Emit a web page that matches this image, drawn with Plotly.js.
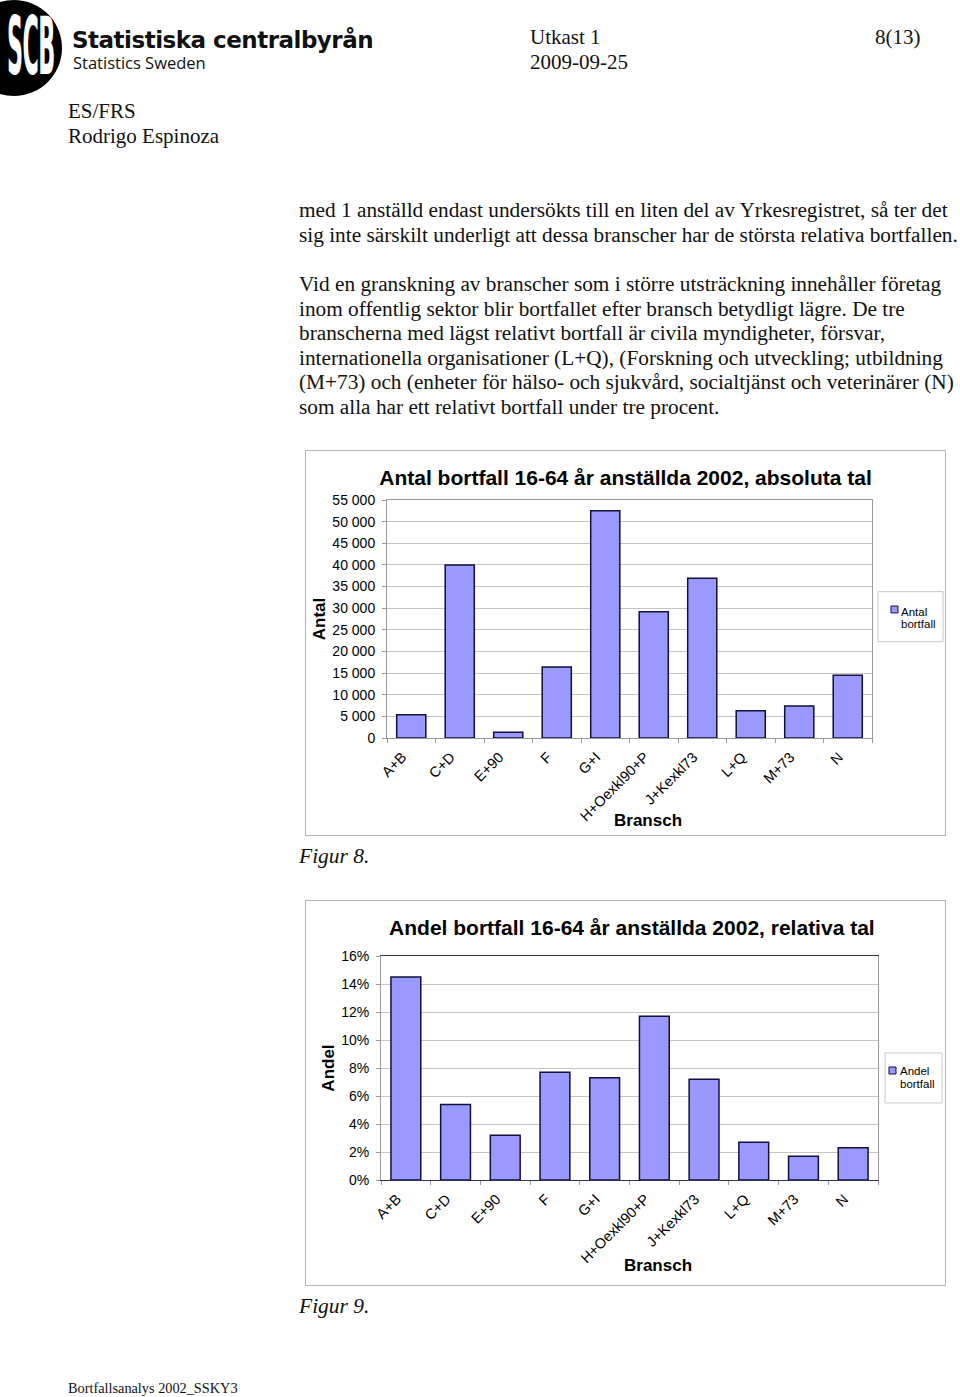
<!DOCTYPE html>
<html>
<head>
<meta charset="utf-8">
<script src="https://cdn.plot.ly/plotly-3.0.1.min.js"></script>
<style>
  body { margin: 0; background: #fff; width: 960px; height: 1397px; position: relative; overflow: hidden;
         font-family: 'Liberation Serif', 'Times New Roman', serif; color: #111; }
  .abs { position: absolute; white-space: nowrap; }
  .serif20 { font-size: 21px; }
  .body-text { font-size: 21.3px; line-height: 24.5px; }
  .chart-box { position: absolute; left: 305px; width: 639px; height: 384px; border: 1px solid #b4b4b4; }
  .logo-disc { position: absolute; left: -34px; top: 0px; width: 96px; height: 96px; border-radius: 50%; background: #000; }
  .logo-scb { position: absolute; left: 7px; top: 0px; color: #fff; font-family: 'DejaVu Sans Condensed', 'DejaVu Sans', sans-serif;
              font-weight: bold; font-size: 40px; letter-spacing: -1px; transform: scale(0.62, 2.0); transform-origin: top left; }
</style>
</head>
<body>

<!-- header -->
<div class="logo-disc"></div>
<div class="abs logo-scb">SCB</div>
<div class="abs" style="left:72px; top:27px; font-family:'DejaVu Sans', sans-serif; font-weight:bold; font-size:23px; letter-spacing:-0.5px;">Statistiska centralbyrån</div>
<div class="abs" style="left:73px; top:51px; font-family:'Open Sans', 'DejaVu Sans', sans-serif; font-size:16.5px;">Statistics Sweden</div>

<div class="abs serif20" style="left:530px; top:25px;">Utkast 1</div>
<div class="abs serif20" style="left:530px; top:50px;">2009-09-25</div>
<div class="abs serif20" style="left:875px; top:25px;">8(13)</div>
<div class="abs serif20" style="left:68px; top:99px;">ES/FRS</div>
<div class="abs serif20" style="left:68px; top:124px;">Rodrigo Espinoza</div>

<!-- body text -->
<div class="abs body-text" style="left:299px; top:198px;">
med 1 anställd endast undersökts till en liten del av Yrkesregistret, så ter det<br>
sig inte särskilt underligt att dessa branscher har de största relativa bortfallen.
</div>
<div class="abs body-text" style="left:299px; top:272px;">
Vid en granskning av branscher som i större utsträckning innehåller företag<br>
inom offentlig sektor blir bortfallet efter bransch betydligt lägre. De tre<br>
branscherna med lägst relativt bortfall är civila myndigheter, försvar,<br>
internationella organisationer (L+Q), (Forskning och utveckling; utbildning<br>
(M+73) och (enheter för hälso- och sjukvård, socialtjänst och veterinärer (N)<br>
som alla har ett relativt bortfall under tre procent.
</div>

<div class="chart-box" style="top:450px;"><div id="chart1" style="width:639px;height:384px;"></div></div>
<div class="abs serif20" style="left:299px; top:844px; font-style:italic; font-size:21.5px;">Figur 8.</div>

<div class="chart-box" style="top:900px;"><div id="chart2" style="width:639px;height:384px;"></div></div>
<div class="abs serif20" style="left:299px; top:1294px; font-style:italic; font-size:21.5px;">Figur 9.</div>

<div class="abs" style="left:68px; top:1380px; font-size:14.3px;">Bortfallsanalys 2002_SSKY3</div>

<script>
// Data
const branscher = ['A+B', 'C+D', 'E+90', 'F', 'G+I', 'H+Oexkl90+P', 'J+Kexkl73', 'L+Q', 'M+73', 'N'];
const antalBortfall = [5400, 40000, 1300, 16400, 52500, 29200, 36900, 6300, 7400, 14500];
const andelBortfall = [0.145, 0.054, 0.032, 0.077, 0.073, 0.117, 0.072, 0.027, 0.017, 0.023];

const barColor = '#9999ff';
const barLine = '#10103a';
const gridCol = '#c4c4c4';
const frameCol = '#9a9a9a';

const baseFont = { family: 'Liberation Sans, Arial, sans-serif', color: '#000', size: 14 };

function xAxisCfg(lineCol) {
    return {
        type: 'category',
        tickangle: -45,
        tickfont: { size: 14.5 },
        ticks: 'outside', ticklen: 4, tickcolor: frameCol,
        tickson: 'boundaries',
        ticklabelstandoff: 4,
        ticklabelshift: -9,
        showline: true, linecolor: lineCol, mirror: true,
        showgrid: false, automargin: false, fixedrange: true
    };
}

function yAxisCfg(extra) {
    return Object.assign({
        showgrid: true, gridcolor: gridCol, gridwidth: 1,
        zeroline: false,
        showline: true, linecolor: frameCol, mirror: true,
        ticks: 'outside', ticklen: 4, tickcolor: frameCol,
        ticklabelstandoff: 4,
        tickfont: { size: 14 },
        automargin: false, fixedrange: true
    }, extra);
}

// legend drawn as a box + key square + two text lines (paper coords)
function legendParts(box, key, textX, lines, lineY) {
    const shapes = [
        { type: 'rect', xref: 'paper', yref: 'paper', x0: box[0], x1: box[1], y0: box[2], y1: box[3],
          line: { color: '#c8c8c8', width: 1 }, fillcolor: '#fff' },
        { type: 'rect', xref: 'paper', yref: 'paper', x0: key[0], x1: key[1], y0: key[2], y1: key[3],
          line: { color: barLine, width: 1 }, fillcolor: barColor }
    ];
    const annotations = lines.map((t, i) => ({
        text: t, xref: 'paper', yref: 'paper', x: textX, y: lineY[i], showarrow: false,
        xanchor: 'left', yanchor: 'middle', font: { size: 11.5 }
    }));
    return { shapes, annotations };
}

// Figur 8
const trace1 = {
    x: branscher, y: antalBortfall, type: 'bar', name: 'Antal bortfall',
    marker: { color: barColor, line: { color: barLine, width: 1.5 } },
    showlegend: false, hoverinfo: 'skip'
};
const leg1 = legendParts([1.0123, 1.1464, 0.4047, 0.6148], [1.0392, 1.0536, 0.5254, 0.5546], 1.0557,
                         ['Antal', 'bortfall'], [0.5307, 0.4790]);
const layout1 = {
    width: 639, height: 384,
    paper_bgcolor: '#fff', plot_bgcolor: '#fff',
    font: baseFont,
    separators: ', ',
    margin: { l: 81, r: 73, t: 49, b: 97, autoexpand: false },
    bargap: 0.4,
    showlegend: false,
    title: { text: '<b>Antal bortfall 16-64 år anställda 2002, absoluta tal</b>', font: { size: 21 }, x: 0.5, xanchor: 'center', y: 0.93, yanchor: 'middle' },
    xaxis: xAxisCfg(frameCol),
    yaxis: yAxisCfg({ range: [0, 55000], dtick: 5000, tick0: 0, tickformat: ',d',
        title: { text: '<b>Antal</b>', font: { size: 17 }, standoff: 2 } }),
    shapes: leg1.shapes,
    annotations: [{ text: '<b>Bransch</b>', xref: 'paper', yref: 'paper', x: 0.538, y: -0.345,
                    showarrow: false, font: { size: 17 }, xanchor: 'center', yanchor: 'middle' }].concat(leg1.annotations)
};

// Figur 9
const trace2 = {
    x: branscher, y: andelBortfall, type: 'bar', name: 'Andel bortfall',
    marker: { color: barColor, line: { color: barLine, width: 1.5 } },
    showlegend: false, hoverinfo: 'skip'
};
const leg2 = legendParts([1.0141, 1.1288, 0.3438, 0.5670], [1.0221, 1.0362, 0.4732, 0.5045], 1.0402,
                         ['Andel', 'bortfall'], [0.4879, 0.4286]);
const layout2 = {
    width: 639, height: 384,
    paper_bgcolor: '#fff', plot_bgcolor: '#fff',
    font: baseFont,
    margin: { l: 75, r: 67, t: 55, b: 105, autoexpand: false },
    bargap: 0.4,
    showlegend: false,
    title: { text: '<b>Andel bortfall 16-64 år anställda 2002, relativa tal</b>', font: { size: 21 }, x: 0.51, xanchor: 'center', y: 0.93, yanchor: 'middle' },
    xaxis: xAxisCfg('#30305a'),
    yaxis: yAxisCfg({ range: [0, 0.16], dtick: 0.02, tick0: 0, tickformat: '.0%',
        title: { text: '<b>Andel</b>', font: { size: 17 }, standoff: 2 } }),
    shapes: leg2.shapes,
    annotations: [{ text: '<b>Bransch</b>', xref: 'paper', yref: 'paper', x: 0.557, y: -0.38,
                    showarrow: false, font: { size: 17 }, xanchor: 'center', yanchor: 'middle' }].concat(leg2.annotations)
};

const config = { displayModeBar: false, staticPlot: true };
Plotly.newPlot('chart1', [trace1], layout1, config);
Plotly.newPlot('chart2', [trace2], layout2, config);
</script>
</body>
</html>
